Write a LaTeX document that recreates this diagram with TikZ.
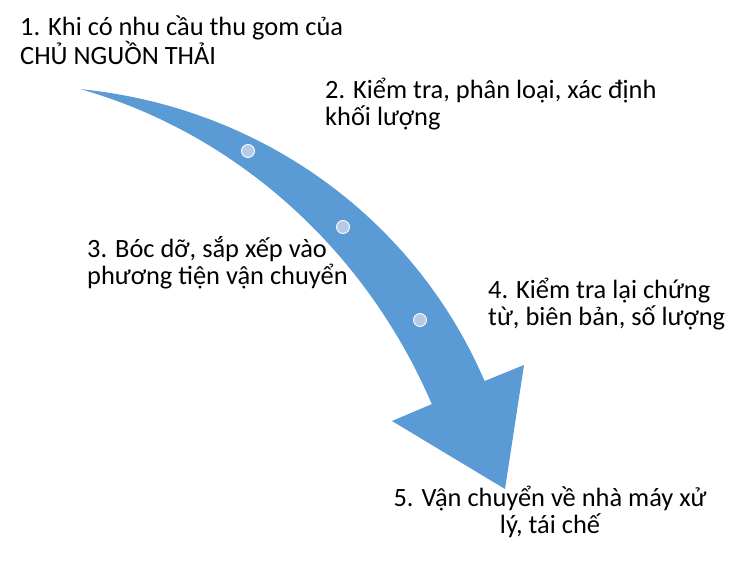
\documentclass[tikz,border=0pt]{standalone}
\usepackage{fontspec}
\setmainfont{Carlito}
\usetikzlibrary{positioning}
\definecolor{arrowblue}{RGB}{91,155,213}
\definecolor{dotblue}{RGB}{183,201,230}

\begin{document}
\begin{tikzpicture}[x=1pt, y=-1pt,
  every node/.style={font=\fontsize{26.4}{27}\selectfont, inner sep=0pt},
  label/.style={align=left, anchor=base west},
  bead/.style={circle, fill=dotblue, draw=white, line width=0.9pt, minimum size=13pt}]
  \useasboundingbox (0,0) rectangle (747,563);
  \def\cx{-16}\def\cy{596}\def\R{516}
  % arrow head corners
  \coordinate (HR) at (524,365);
  \coordinate (HT) at (505,489);
  \coordinate (HL) at (392,421);
  % shaft: centre on a circle, width opening like a sine
  \fill[arrowblue] plot[domain=0:1, samples=60, variable=\u]
      ({\cx+(\R+28.8*sin(90*\u))*cos(79.2-56*\u)}, {\cy-(\R+28.8*sin(90*\u))*sin(79.2-56*\u)})
    -- (HR) -- (HT) -- (HL)
    -- plot[domain=1:0, samples=60, variable=\u]
      ({\cx+(\R-28.8*sin(90*\u))*cos(79.2-56*\u)}, {\cy-(\R-28.8*sin(90*\u))*sin(79.2-56*\u)})
    -- cycle;
  \foreach \p [count=\i] in {(248,151),(343,227),(420,320)} {
    \node[bead] (d\i) at \p {};
  }
  % base anchor sits on the last line
  \node[label] (s1) at (20,64) {1. Khi có nhu cầu thu gom của\\CHỦ NGUỒN THẢI};
  \node[label] (s2) at (325,125) {2. Kiểm tra, phân loại, xác định\\khối lượng};
  \node[label] (s3) at (87,284) {3. Bóc dỡ, sắp xếp vào\\phương tiện vận chuyển};
  \node[label] (s4) at (488,325) {4. Kiểm tra lại chứng\\từ, biên bản, số lượng};
  \node[align=center, anchor=base] (s5) at (550,533) {5. Vận chuyển về nhà máy xử\\lý, tái chế};
\end{tikzpicture}
\end{document}
